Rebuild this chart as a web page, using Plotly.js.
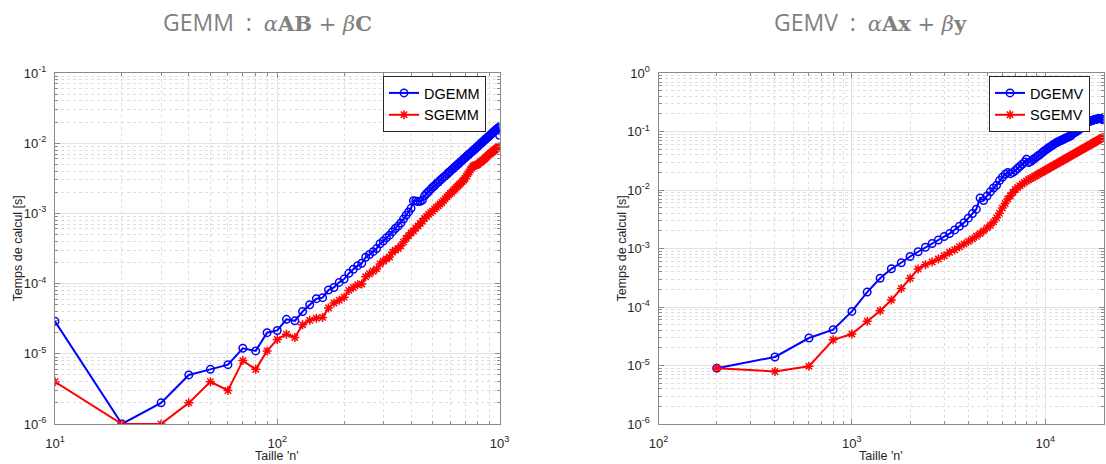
<!DOCTYPE html>
<html>
<head>
<meta charset="utf-8">
<script src="https://cdn.plot.ly/plotly-3.0.1.min.js"></script>
<style>html,body{margin:0;padding:0;background:#fff;}#chart{width:1106px;height:464px;}</style>
</head>
<body>
<div id="chart"></div>
<script>
// ---------- DATA ----------
const gemmN = [10,20,30,40,50,60,70,80,90,100,110,120,130,140,150,160,170,180,190,200,
  210,220,230,240,250,260,270,280,290,300,310,320,330,340,350,360,370,380,390,400,
  410,420,430,440,450,460,470,480,490,500,510,520,530,540,550,560,570,580,590,600,
  610,620,630,640,650,660,670,680,690,700,710,720,730,740,750,760,770,780,790,800,
  810,820,830,840,850,860,870,880,890,900,910,920,930,940,950,960,970,980,990,1000];

const dgemm = [2.9e-5,1.0e-6,2.0e-6,5.0e-6,6.0e-6,7.0e-6,1.2e-5,1.1e-5,2.0e-5,2.15e-5,
  3.1e-5,2.95e-5,4.0e-5,5.0e-5,6.1e-5,6.3e-5,8.1e-5,8.8e-5,1.04e-4,1.16e-4,
  1.4e-4,1.6e-4,1.8e-4,1.95e-4,2.37e-4,2.6e-4,2.85e-4,3.15e-4,3.7e-4,4.05e-4,
  4.5e-4,4.9e-4,5.5e-4,6.1e-4,6.6e-4,7.3e-4,8.3e-4,9.4e-4,1.05e-3,1.18e-3,
  1.52e-3,1.5e-3,1.48e-3,1.49e-3,1.55e-3,1.78e-3,1.92e-3,2.05e-3,2.2e-3,2.36e-3,
  2.48e-3,2.66e-3,2.78e-3,2.96e-3,3.1e-3,3.28e-3,3.42e-3,3.6e-3,3.82e-3,3.97e-3,
  4.2e-3,4.36e-3,4.6e-3,4.78e-3,5.02e-3,5.22e-3,5.5e-3,5.68e-3,5.97e-3,6.18e-3,
  6.5e-3,6.7e-3,7.02e-3,7.22e-3,7.58e-3,7.8e-3,8.18e-3,8.4e-3,8.8e-3,9.05e-3,
  9.45e-3,9.7e-3,1.015e-2,1.04e-2,1.085e-2,1.115e-2,1.165e-2,1.19e-2,1.235e-2,1.265e-2,
  1.315e-2,1.355e-2,1.405e-2,1.435e-2,1.495e-2,1.525e-2,1.585e-2,1.62e-2,1.67e-2,1.3e-2];

const sgemm = [4.0e-6,1.0e-6,1.0e-6,2.0e-6,4.0e-6,3.0e-6,8.0e-6,6.0e-6,1.1e-5,1.6e-5,
  1.9e-5,1.7e-5,2.6e-5,3.0e-5,3.2e-5,3.3e-5,4.5e-5,5.3e-5,5.8e-5,6.4e-5,
  8.0e-5,8.8e-5,9.6e-5,9.9e-5,1.25e-4,1.38e-4,1.5e-4,1.62e-4,1.9e-4,2.08e-4,
  2.25e-4,2.4e-4,2.8e-4,3.0e-4,3.15e-4,3.45e-4,3.9e-4,4.4e-4,4.8e-4,5.3e-4,
  5.6e-4,6.2e-4,6.6e-4,7.2e-4,7.7e-4,8.5e-4,9.0e-4,9.7e-4,1.03e-3,1.08e-3,
  1.15e-3,1.22e-3,1.28e-3,1.36e-3,1.43e-3,1.52e-3,1.62e-3,1.72e-3,1.82e-3,1.92e-3,
  2.0e-3,2.12e-3,2.22e-3,2.35e-3,2.45e-3,2.58e-3,2.7e-3,2.85e-3,3.0e-3,3.15e-3,
  3.4e-3,3.65e-3,3.9e-3,4.2e-3,4.45e-3,4.7e-3,4.8e-3,4.85e-3,4.9e-3,5.0e-3,
  5.2e-3,5.35e-3,5.5e-3,5.7e-3,5.85e-3,6.05e-3,6.3e-3,6.5e-3,6.75e-3,6.95e-3,
  7.15e-3,7.35e-3,7.55e-3,7.8e-3,8.0e-3,8.2e-3,8.4e-3,8.6e-3,8.8e-3,9.0e-3];

const gemvN = [200,400,600,800,1000,1200,1400,1600,1800,2000,2200,2400,2600,2800,3000,3200,3400,3600,3800,4000,
  4200,4400,4600,4800,5000,5200,5400,5600,5800,6000,6200,6400,6600,6800,7000,7200,7400,7600,7800,8000,
  8200,8400,8600,8800,9000,9200,9400,9600,9800,10000,10200,10400,10600,10800,11000,11200,11400,11600,11800,12000,
  12200,12400,12600,12800,13000,13200,13400,13600,13800,14000,14200,14400,14600,14800,15000,15200,15400,15600,15800,16000,
  16200,16400,16600,16800,17000,17200,17400,17600,17800,18000,18200,18400,18600,18800,19000,19200,19400,19600,19800,20000];

const dgemv = [9.0e-6,1.4e-5,2.95e-5,4.1e-5,8.4e-5,1.8e-4,3.1e-4,4.5e-4,5.7e-4,7.3e-4,
  8.8e-4,1.05e-3,1.22e-3,1.4e-3,1.6e-3,1.8e-3,2.08e-3,2.4e-3,2.75e-3,3.3e-3,
  3.95e-3,4.7e-3,7.3e-3,6.6e-3,7.9e-3,9.3e-3,1.08e-2,1.2e-2,1.45e-2,1.65e-2,
  1.85e-2,2.0e-2,1.9e-2,2.0e-2,2.15e-2,2.35e-2,2.55e-2,2.75e-2,3.0e-2,3.35e-2,
  2.95e-2,3.05e-2,3.25e-2,3.45e-2,3.65e-2,3.85e-2,4.05e-2,4.3e-2,4.55e-2,4.8e-2,
  5.0e-2,5.25e-2,5.45e-2,5.7e-2,5.95e-2,6.2e-2,6.45e-2,6.6e-2,6.8e-2,7.0e-2,
  7.15e-2,7.35e-2,7.55e-2,7.75e-2,7.95e-2,8.1e-2,8.3e-2,8.5e-2,9.3e-2,9.4e-2,
  9.6e-2,9.9e-2,0.102,0.105,0.109,0.113,0.118,0.124,0.130,0.136,
  0.139,0.142,0.145,0.148,0.150,0.152,0.154,0.156,0.158,0.160,
  0.162,0.163,0.164,0.165,0.166,0.166,0.165,0.164,0.162,0.158];

const sgemv = [9.0e-6,7.9e-6,9.7e-6,2.75e-5,3.45e-5,5.7e-5,8.6e-5,1.32e-4,2.08e-4,3.1e-4,
  4.45e-4,5.3e-4,5.9e-4,6.6e-4,7.5e-4,8.6e-4,9.5e-4,1.07e-3,1.19e-3,1.32e-3,
  1.46e-3,1.62e-3,1.8e-3,2.0e-3,2.25e-3,2.5e-3,2.85e-3,3.35e-3,4.0e-3,4.9e-3,
  5.9e-3,7.0e-3,8.0e-3,9.1e-3,1.02e-2,1.1e-2,1.18e-2,1.27e-2,1.35e-2,1.43e-2,
  1.50e-2,1.567e-2,1.638e-2,1.711e-2,1.784e-2,1.86e-2,1.937e-2,2.015e-2,2.094e-2,2.175e-2,
  2.258e-2,2.342e-2,2.427e-2,2.514e-2,2.602e-2,2.692e-2,2.783e-2,2.875e-2,2.969e-2,3.065e-2,
  3.161e-2,3.259e-2,3.359e-2,3.46e-2,3.562e-2,3.666e-2,3.771e-2,3.878e-2,3.986e-2,4.095e-2,
  4.206e-2,4.318e-2,4.431e-2,4.546e-2,4.662e-2,4.78e-2,4.898e-2,5.019e-2,5.14e-2,5.263e-2,
  5.388e-2,5.514e-2,5.641e-2,5.769e-2,5.899e-2,6.03e-2,6.162e-2,6.296e-2,6.431e-2,6.568e-2,
  6.706e-2,6.845e-2,6.985e-2,7.127e-2,7.271e-2,7.415e-2,7.561e-2,7.708e-2,7.857e-2,8.0e-2];

const gemmXTicks = [10,100,1000];
const gemmXText = ['10<sup>1</sup>','10<sup>2</sup>','10<sup>3</sup>'];
const gemmYTicks = [1e-6,1e-5,1e-4,1e-3,1e-2,1e-1];
const gemmYText = ['10<sup>-6</sup>','10<sup>-5</sup>','10<sup>-4</sup>','10<sup>-3</sup>','10<sup>-2</sup>','10<sup>-1</sup>'];
const gemvXTicks = [100,1000,10000];
const gemvXText = ['10<sup>2</sup>','10<sup>3</sup>','10<sup>4</sup>'];
const gemvYTicks = [1e-6,1e-5,1e-4,1e-3,1e-2,1e-1,1];
const gemvYText = ['10<sup>-6</sup>','10<sup>-5</sup>','10<sup>-4</sup>','10<sup>-3</sup>','10<sup>-2</sup>','10<sup>-1</sup>','10<sup>0</sup>'];

// ---------- STYLE ----------
const W = 1106, H = 464;
const BLUE = '#0000ff', RED = '#ff0000';
const FONT = 'Liberation Sans, Arial, sans-serif';
const AX = '#8a8a8a';
const TXT = '#262626';

function px(x){ return x / W; }
function py(y){ return 1 - y / H; }

function axis(dom, range, tv, tt, standoff){
  return {
    type: 'log', domain: dom, range: range, autorange: false,
    tickmode: 'array', tickvals: tv, ticktext: tt,
    ticks: 'inside', ticklen: 5, tickwidth: 1, tickcolor: AX,
    showline: true, linecolor: AX, linewidth: 1, mirror: 'allticks',
    showgrid: true, gridcolor: '#e2e2e2', gridwidth: 1,
    zeroline: false,
    tickfont: {family: FONT, size: 13, color: TXT},
    ticklabelstandoff: standoff,
    minor: {dtick: 'D1', ticks: 'inside', ticklen: 3, tickcolor: AX,
            showgrid: true, gridcolor: '#dedede', griddash: 'dot', gridwidth: 1}
  };
}

const lineW = 2;
const traces = [
  {x: gemmN, y: dgemm, name: 'DGEMM', type: 'scatter', mode: 'lines+markers',
   xaxis: 'x', yaxis: 'y', legend: 'legend',
   line: {color: BLUE, width: lineW},
   marker: {symbol: 'circle-open', size: 7.5, color: BLUE, line: {color: BLUE, width: 1.5}}},
  {x: gemmN, y: sgemm, name: 'SGEMM', type: 'scatter', mode: 'lines+markers',
   xaxis: 'x', yaxis: 'y', legend: 'legend',
   line: {color: RED, width: lineW},
   marker: {symbol: 'asterisk-open', size: 7.5, color: RED, line: {color: RED, width: 1.5}}},
  {x: gemvN, y: dgemv, name: 'DGEMV', type: 'scatter', mode: 'lines+markers',
   xaxis: 'x2', yaxis: 'y2', legend: 'legend2',
   line: {color: BLUE, width: lineW},
   marker: {symbol: 'circle-open', size: 7.5, color: BLUE, line: {color: BLUE, width: 1.5}}},
  {x: gemvN, y: sgemv, name: 'SGEMV', type: 'scatter', mode: 'lines+markers',
   xaxis: 'x2', yaxis: 'y2', legend: 'legend2',
   line: {color: RED, width: lineW},
   marker: {symbol: 'asterisk-open', size: 7.5, color: RED, line: {color: RED, width: 1.5}}}
];

const yDom = [py(424), py(73)];
const legendStyle = {
  font: {family: FONT, size: 14.5, color: '#000'},
  bgcolor: '#ffffff', bordercolor: '#262626', borderwidth: 1,
  xanchor: 'right', yanchor: 'top', itemwidth: 30, tracegroupgap: 0
};

const NB = '\u00A0';
const mathStyle = "font-family:'DejaVu Serif', serif;font-size:21px";
const titleFont = {family: 'Open Sans, Lato, sans-serif', size: 23, color: '#808080'};
const layout = {
  width: W, height: H,
  margin: {l: 0, r: 0, t: 0, b: 0},
  paper_bgcolor: '#ffffff', plot_bgcolor: '#ffffff',
  showlegend: true,
  xaxis: axis([px(55), px(499.5)], [1, 3], gemmXTicks, gemmXText, 7),
  yaxis: axis(yDom, [-6, -1], gemmYTicks, gemmYText, 5),
  xaxis2: axis([px(658.5), px(1103.5)], [2, Math.log10(20000)], gemvXTicks, gemvXText, 7),
  yaxis2: Object.assign(axis(yDom, [-6, 0], gemvYTicks, gemvYText, 5), {anchor: 'x2'}),
  legend: Object.assign({x: px(486), y: py(76)}, legendStyle),
  legend2: Object.assign({x: px(1090), y: py(76)}, legendStyle),
  annotations: [
    {text: "GEMM" + NB + NB + ":" + NB + NB + "<span style=\"" + mathStyle + "\"><i>α</i><b>AB</b> + <i>β</i><b>C</b></span>",
     xref: 'paper', yref: 'paper', x: px(267.5), y: py(22), xanchor: 'center', yanchor: 'middle',
     showarrow: false, font: titleFont},
    {text: "GEMV" + NB + NB + ":" + NB + NB + "<span style=\"" + mathStyle + "\"><i>α</i><b>Ax</b> + <i>β</i><b>y</b></span>",
     xref: 'paper', yref: 'paper', x: px(870), y: py(22), xanchor: 'center', yanchor: 'middle',
     showarrow: false, font: titleFont},
    {text: "Taille 'n'", xref: 'paper', yref: 'paper', x: px(277), y: py(456),
     xanchor: 'center', yanchor: 'middle', showarrow: false, font: {family: FONT, size: 12.5, color: TXT}},
    {text: "Taille 'n'", xref: 'paper', yref: 'paper', x: px(881), y: py(456),
     xanchor: 'center', yanchor: 'middle', showarrow: false, font: {family: FONT, size: 12.5, color: TXT}},
    {text: "Temps de calcul [s]", xref: 'paper', yref: 'paper', x: px(17), y: py(248.5), textangle: -90,
     xanchor: 'center', yanchor: 'middle', showarrow: false, font: {family: FONT, size: 12.5, color: TXT}},
    {text: "Temps de calcul [s]", xref: 'paper', yref: 'paper', x: px(621), y: py(248.5), textangle: -90,
     xanchor: 'center', yanchor: 'middle', showarrow: false, font: {family: FONT, size: 12.5, color: TXT}}
  ]
};

Plotly.newPlot('chart', traces, layout, {staticPlot: true, displayModeBar: false});
</script>
</body>
</html>
